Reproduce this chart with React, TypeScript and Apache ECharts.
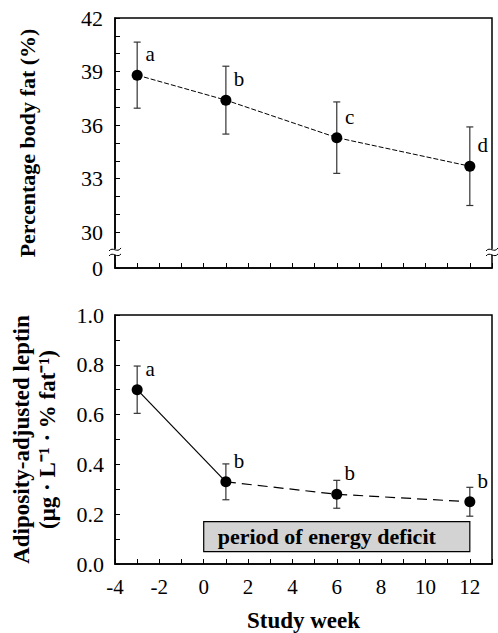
import React, { useEffect, useRef } from "react";
import * as echarts from "echarts";

const weeks = [-3, 1, 6, 12];
const bodyFat = [38.8, 37.4, 35.3, 33.7];
const bodyFatSD = [1.85, 1.9, 2.0, 2.2];
const bodyFatLetters = ["a", "b", "c", "d"];
const leptin = [0.7, 0.33, 0.28, 0.25];
const leptinSD = [0.095, 0.072, 0.056, 0.058];
const leptinLetters = ["a", "b", "b", "b"];
const fatTickLabels = [30, 33, 36, 39, 42];
const fatAxisBottom = 28; // drawn as "0" below the axis break
const fatMinorTicks = [30, 31, 32, 33, 34, 35, 36, 37, 38, 39, 40, 41, 42];
const deficitWeeks = [0, 12];
const deficitBand = [0.05, 0.17];
const deficitLabel = "period of energy deficit";

const FONT = "'Liberation Serif', 'Times New Roman', serif";

function errorSeries(axisIdx: number, means: number[], sds: number[]) {
  return {
    type: "custom",
    xAxisIndex: axisIdx,
    yAxisIndex: axisIdx,
    silent: true,
    z: 2,
    data: weeks.map((w, i) => [w, means[i] - sds[i], means[i] + sds[i]]),
    encode: { x: 0, y: [1, 2] },
    renderItem: (_p: any, api: any) => {
      const lo = api.coord([api.value(0), api.value(1)]);
      const hi = api.coord([api.value(0), api.value(2)]);
      const hw = 3.5;
      const style = { stroke: "#333", lineWidth: 1.2 };
      return {
        type: "group",
        children: [
          { type: "line", shape: { x1: lo[0], y1: lo[1], x2: hi[0], y2: hi[1] }, style },
          { type: "line", shape: { x1: lo[0] - hw, y1: lo[1], x2: lo[0] + hw, y2: lo[1] }, style },
          { type: "line", shape: { x1: hi[0] - hw, y1: hi[1], x2: hi[0] + hw, y2: hi[1] }, style },
        ],
      };
    },
  };
}

function pointSeries(axisIdx: number, means: number[], letters: string[], extra: any = {}) {
  return {
    type: "scatter",
    xAxisIndex: axisIdx,
    yAxisIndex: axisIdx,
    symbol: "circle",
    symbolSize: 11,
    z: 5,
    itemStyle: { color: "#000", opacity: 1 },
    data: weeks.map((w, i) => [w, means[i]]),
    label: {
      show: true,
      position: "inside",
      offset: [13, -21],
      formatter: (p: any) => letters[p.dataIndex],
      fontFamily: FONT,
      fontSize: 21,
      color: "#000",
      textBorderWidth: 0,
    },
    ...extra,
  };
}

function xAxis(gridIndex: number, showLabels: boolean) {
  return {
    type: "value",
    gridIndex,
    min: -4,
    max: 13,
    interval: 1,
    axisLine: { show: true, onZero: false, lineStyle: { color: "#000", width: 1.5 } },
    axisTick: { show: true, inside: true, length: 5, lineStyle: { color: "#000", width: 1 } },
    axisLabel: {
      show: showLabels,
      formatter: (v: number) => (v % 2 === 0 && v <= 12 ? String(v) : ""),
      fontFamily: FONT,
      fontSize: 21,
      color: "#000",
      margin: 12,
    },
    splitLine: { show: false },
    name: showLabels ? "Study week" : "",
    nameLocation: "middle",
    nameGap: 45,
    nameTextStyle: { fontFamily: FONT, fontSize: 23, fontWeight: "bold", color: "#000" },
  };
}

export default function App() {
  const ref = useRef<HTMLDivElement>(null);
  useEffect(() => {
    document.body.style.margin = "0";
    if (!ref.current) return;
    const chart = echarts.init(ref.current, undefined, { renderer: "svg" });
    const option: any = {
      animation: false,
      backgroundColor: "#fff",
      grid: [
        { left: 115, right: 6, top: 18, height: 250, show: true, borderColor: "#000", borderWidth: 1.5 },
        { left: 115, right: 6, top: 315, height: 251, show: true, borderColor: "#000", borderWidth: 1.5 },
      ],
      xAxis: [xAxis(0, false), xAxis(1, true)],
      yAxis: [
        {
          type: "value",
          gridIndex: 0,
          min: fatAxisBottom,
          max: 42,
          axisLine: { show: true, onZero: false, lineStyle: { color: "#000", width: 1.5 } },
          axisTick: { show: true, inside: true, length: 5, customValues: [fatAxisBottom, ...fatMinorTicks], lineStyle: { color: "#000" } },
          axisLabel: {
            customValues: [fatAxisBottom, ...fatTickLabels],
            formatter: (v: number) => (v === fatAxisBottom ? "0" : String(v)),
            fontFamily: FONT,
            fontSize: 22,
            color: "#000",
            margin: 12,
          },
          splitLine: { show: false },
          name: "Percentage body fat (%)",
          nameLocation: "middle",
          nameRotate: 90,
          nameGap: 77,
          nameTextStyle: { fontFamily: FONT, fontSize: 22, fontWeight: "bold", color: "#000" },
        },
        {
          type: "value",
          gridIndex: 1,
          min: 0,
          max: 1,
          interval: 0.2,
          axisLine: { show: true, onZero: false, lineStyle: { color: "#000", width: 1.5 } },
          axisTick: { show: true, inside: true, length: 5, lineStyle: { color: "#000" } },
          minorTick: { show: true, splitNumber: 2, length: 5, lineStyle: { color: "#000" } },
          axisLabel: {
            formatter: (v: number) => v.toFixed(1),
            fontFamily: FONT,
            fontSize: 22,
            color: "#000",
            margin: 11,
          },
          splitLine: { show: false },
          minorSplitLine: { show: false },
          name: "Adiposity-adjusted leptin\n(μg · L⁻¹ · % fat⁻¹)",
          nameLocation: "middle",
          nameRotate: 90,
          nameGap: 55,
          nameTextStyle: { fontFamily: FONT, fontSize: 23, fontWeight: "bold", color: "#000", lineHeight: 26 },
        },
      ],
      series: [
        {
          type: "line",
          xAxisIndex: 0,
          yAxisIndex: 0,
          symbol: "none",
          silent: true,
          z: 3,
          data: weeks.map((w, i) => [w, bodyFat[i]]),
          lineStyle: { color: "#000", width: 1, type: [5, 2] },
        },
        errorSeries(0, bodyFat, bodyFatSD),
        pointSeries(0, bodyFat, bodyFatLetters),
        {
          type: "line",
          xAxisIndex: 1,
          yAxisIndex: 1,
          symbol: "none",
          silent: true,
          z: 3,
          data: weeks.slice(0, 2).map((w, i) => [w, leptin[i]]),
          lineStyle: { color: "#000", width: 1.2, type: "solid" },
        },
        {
          type: "line",
          xAxisIndex: 1,
          yAxisIndex: 1,
          symbol: "none",
          silent: true,
          z: 3,
          data: weeks.slice(1).map((w, i) => [w, leptin[i + 1]]),
          lineStyle: { color: "#000", width: 1.2, type: [10, 6] },
        },
        errorSeries(1, leptin, leptinSD),
        pointSeries(1, leptin, leptinLetters, {
          markArea: {
            silent: true,
            itemStyle: { color: "#d3d3d3", borderColor: "#000", borderWidth: 1.2, opacity: 1 },
            label: {
              show: true,
              position: "inside",
              offset: [-10, 0],
              formatter: deficitLabel,
              fontFamily: FONT,
              fontWeight: "bold",
              fontSize: 22,
              color: "#000",
              textBorderWidth: 0,
            },
            data: [[{ xAxis: deficitWeeks[0], yAxis: deficitBand[0] }, { xAxis: deficitWeeks[1], yAxis: deficitBand[1] }]],
          },
        }),
      ],
    };
    chart.setOption(option);

    // axis-break marks on top panel between "0" and 30
    const breakVal = 28.9;
    const pl = chart.convertToPixel({ xAxisIndex: 0, yAxisIndex: 0 }, [-4, breakVal]) as number[];
    const pr = chart.convertToPixel({ xAxisIndex: 0, yAxisIndex: 0 }, [13, breakVal]) as number[];
    const mk = (p: number[]) => [
      { type: "rect", shape: { x: p[0] - 3, y: p[1] - 3, width: 6, height: 6 }, style: { fill: "#fff" }, z: 100 },
      {
        type: "bezierCurve",
        shape: { x1: p[0] - 6, y1: p[1] - 1, cpx1: p[0] - 2, cpy1: p[1] - 6, cpx2: p[0] + 2, cpy2: p[1] + 2, x2: p[0] + 6, y2: p[1] - 4 },
        style: { stroke: "#000", lineWidth: 1, fill: "none" },
        z: 101,
      },
      {
        type: "bezierCurve",
        shape: { x1: p[0] - 6, y1: p[1] + 4, cpx1: p[0] - 2, cpy1: p[1] - 1, cpx2: p[0] + 2, cpy2: p[1] + 7, x2: p[0] + 6, y2: p[1] + 2 },
        style: { stroke: "#000", lineWidth: 1, fill: "none" },
        z: 101,
      },
    ];
    chart.setOption({ graphic: [...mk(pl), ...mk(pr)] });

    return () => chart.dispose();
  }, []);
  return <div ref={ref} style={{ width: 498, height: 633 }} />;
}
